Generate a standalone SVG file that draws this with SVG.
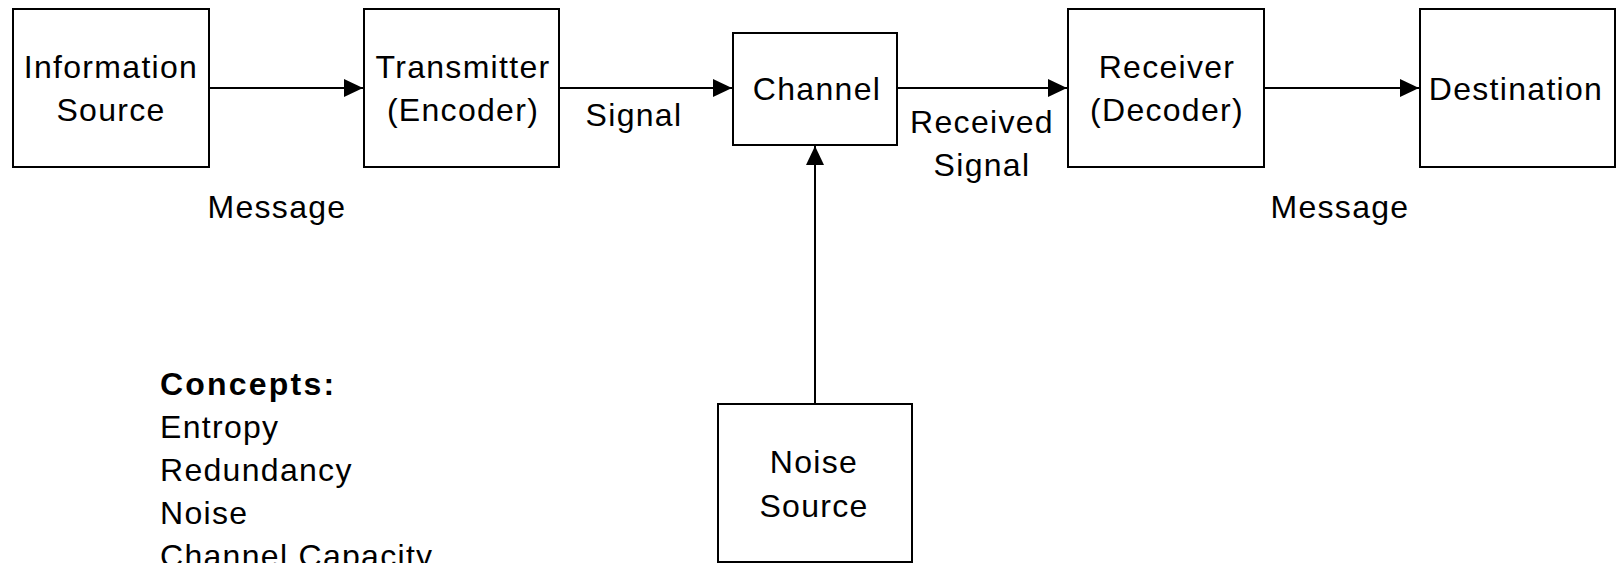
<svg xmlns="http://www.w3.org/2000/svg" width="1618" height="563" viewBox="0 0 1618 563">
<style>
.box{fill:#fff;stroke:#000;stroke-width:2}
.t{font-family:"Liberation Sans",Arial,sans-serif;font-size:32px;fill:#000;text-anchor:middle;letter-spacing:1.3px}
.l{text-anchor:start}
.b{font-weight:bold;letter-spacing:2.2px}
.c{fill:none;stroke:#000;stroke-width:2}
</style>
<defs>
<marker id="ah" markerUnits="userSpaceOnUse" markerWidth="20" markerHeight="18" refX="19" refY="9" orient="auto">
<path d="M0,0 L19,9 L0,18 Z" fill="#000"/>
</marker>
</defs>
<rect width="1618" height="563" fill="#fff"/>
<g id="connectors">
<line class="c" x1="209" y1="88" x2="363" y2="88" marker-end="url(#ah)"/>
<line class="c" x1="559" y1="88" x2="732" y2="88" marker-end="url(#ah)"/>
<line class="c" x1="897" y1="88" x2="1067" y2="88" marker-end="url(#ah)"/>
<line class="c" x1="1264" y1="88" x2="1419" y2="88" marker-end="url(#ah)"/>
<line class="c" x1="815" y1="404" x2="815" y2="146" marker-end="url(#ah)"/>
</g>
<g id="info-source">
<rect class="box" x="13" y="9" width="196" height="158"/>
<text class="t" x="111" y="78">Information</text>
<text class="t" x="111" y="121">Source</text>
</g>
<g id="transmitter">
<rect class="box" x="364" y="9" width="195" height="158"/>
<text class="t" x="463" y="78">Transmitter</text>
<text class="t" x="463" y="121">(Encoder)</text>
</g>
<g id="channel">
<rect class="box" x="733" y="33" width="164" height="112"/>
<text class="t" x="817" y="100">Channel</text>
</g>
<g id="receiver">
<rect class="box" x="1068" y="9" width="196" height="158"/>
<text class="t" x="1167" y="78">Receiver</text>
<text class="t" x="1167" y="121">(Decoder)</text>
</g>
<g id="destination">
<rect class="box" x="1420" y="9" width="195" height="158"/>
<text class="t" x="1516" y="100">Destination</text>
</g>
<g id="noise-source">
<rect class="box" x="718" y="404" width="194" height="158"/>
<text class="t" x="814" y="473">Noise</text>
<text class="t" x="814" y="517">Source</text>
</g>
<g id="labels">
<text class="t" x="277" y="218">Message</text>
<text class="t" x="1340" y="218">Message</text>
<text class="t" x="634" y="126">Signal</text>
<text class="t" x="982" y="133">Received</text>
<text class="t" x="982" y="176">Signal</text>
</g>
<g id="concepts">
<text class="t l b" x="160" y="395">Concepts:</text>
<text class="t l" x="160" y="438">Entropy</text>
<text class="t l" x="160" y="481">Redundancy</text>
<text class="t l" x="160" y="524">Noise</text>
<text class="t l" x="160" y="567">Channel Capacity</text>
</g>
</svg>
